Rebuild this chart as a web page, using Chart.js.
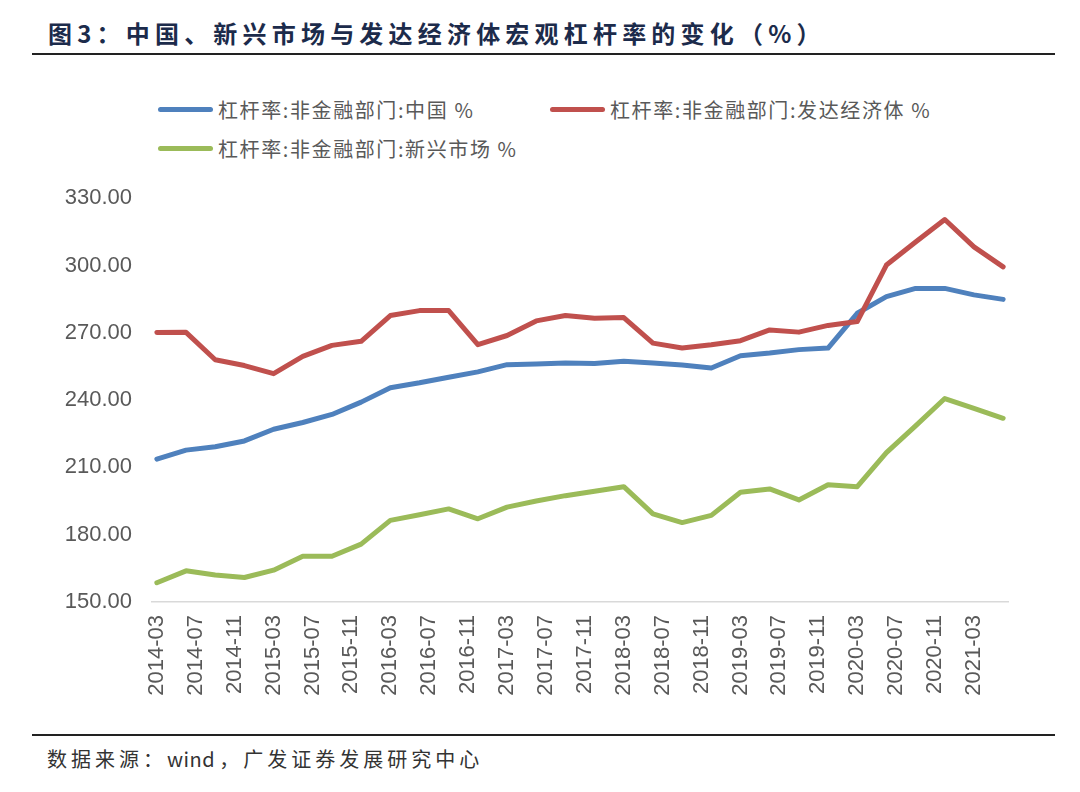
<!DOCTYPE html>
<html>
<head>
<meta charset="utf-8">
<script src="https://cdn.jsdelivr.net/npm/chart.js@4/dist/chart.umd.min.js"></script>
<style>
    body { margin: 0; background: #fff; }
    #page { position: relative; width: 1080px; height: 792px; overflow: hidden; background: #fff; }
    #title { position: absolute; left: 48px; top: 16px; font: bold 24px "Noto Sans CJK SC", sans-serif; color: #1c2b4b; letter-spacing: 5.2px; line-height: 34px; white-space: nowrap; }
    .rule { position: absolute; left: 32px; width: 1023px; height: 2px; background: #222; }
    #legend { position: absolute; left: 0; top: 0; }
    .item { position: absolute; height: 30px; display: flex; align-items: center; font: 20px "Noto Sans CJK SC", sans-serif; color: #595959; letter-spacing: 1.6px; white-space: nowrap; }
    .swatch { width: 55px; height: 5px; border-radius: 3px; margin-right: 5px; }
    #footer { position: absolute; left: 47px; top: 744px; font: 20px "Noto Sans CJK SC", sans-serif; color: #333; letter-spacing: 4px; line-height: 30px; white-space: nowrap; }
    #footer span { letter-spacing: 0.5px; margin-right: 4px; }
    #box { position: absolute; left: 0; top: 165px; width: 1080px; height: 555px; }
</style>
</head>
<body>
<div id="page">
    <div id="title">图3：中国、新兴市场与发达经济体宏观杠杆率的变化（%）</div>
    <div class="rule" style="top:53px"></div>
    <div id="legend"></div>
    <div id="box"><canvas id="chart"></canvas></div>
    <div class="rule" style="top:734px"></div>
    <div id="footer">数据来源：<span>wind</span>，广发证券发展研究中心</div>
</div>
<script>
// quarterly observations
const dates = ['2014-03', '2014-06', '2014-09', '2014-12', '2015-03', '2015-06', '2015-09', '2015-12',
    '2016-03', '2016-06', '2016-09', '2016-12', '2017-03', '2017-06', '2017-09', '2017-12',
    '2018-03', '2018-06', '2018-09', '2018-12', '2019-03', '2019-06', '2019-09', '2019-12',
    '2020-03', '2020-06', '2020-09', '2020-12', '2021-03', '2021-06'];

const china = [213.7, 217.7, 219.2, 221.8, 227.0, 230.0, 233.6, 239.1, 245.5, 247.7, 250.2, 252.6,
    255.8, 256.1, 256.5, 256.3, 257.3, 256.5, 255.6, 254.3, 259.8, 261.0, 262.5, 263.2,
    278.7, 286.1, 289.8, 289.8, 286.9, 284.9];

const developed = [270.1, 270.2, 258.0, 255.4, 251.8, 259.5, 264.4, 266.2, 277.7, 279.9, 279.9, 264.7,
    268.8, 275.3, 277.7, 276.5, 276.8, 265.4, 263.2, 264.7, 266.5, 271.3, 270.3, 273.3,
    275.0, 300.2, 310.5, 320.5, 308.3, 299.4];

const emerging = [158.6, 163.9, 162.0, 160.9, 164.2, 170.4, 170.4, 175.8, 186.4, 188.9, 191.5, 187.1,
    192.3, 195.0, 197.4, 199.4, 201.4, 189.3, 185.4, 188.6, 198.9, 200.4, 195.5, 202.3,
    201.4, 216.6, 228.5, 240.7, 236.3, 231.9];

const xTickLabels = ['2014-03', '2014-07', '2014-11', '2015-03', '2015-07', '2015-11', '2016-03', '2016-07',
    '2016-11', '2017-03', '2017-07', '2017-11', '2018-03', '2018-07', '2018-11', '2019-03',
    '2019-07', '2019-11', '2020-03', '2020-07', '2020-11', '2021-03'];

const yTicks = [150, 180, 210, 240, 270, 300, 330];

const seriesNames = ['杠杆率:非金融部门:中国 %', '杠杆率:非金融部门:发达经济体 %', '杠杆率:非金融部门:新兴市场 %'];
const seriesColors = ['#4F81BD', '#C0504D', '#9BBB59'];

// months since 2014-03
function monthIndex(s) {
    const [y, m] = s.split('-').map(Number);
    return (y - 2014) * 12 + (m - 3);
}
const tickLabelOf = {};
xTickLabels.forEach(l => { tickLabelOf[monthIndex(l)] = l; });

const toPoints = vals => vals.map((v, i) => ({ x: monthIndex(dates[i]), y: v }));

// legend laid out like the original
const legendPos = [[158, 94], [550, 94], [158, 133]];
const legend = document.getElementById('legend');
seriesNames.forEach((name, i) => {
    const div = document.createElement('div');
    div.className = 'item';
    div.style.left = legendPos[i][0] + 'px';
    div.style.top = legendPos[i][1] + 'px';
    div.innerHTML = '<span class="swatch" style="background:' + seriesColors[i] + '"></span>' + name;
    legend.appendChild(div);
});

const allSeries = [china, developed, emerging];
const ctx = document.getElementById('chart').getContext('2d');
new Chart(ctx, {
    type: 'line',
    data: {
        datasets: allSeries.map((vals, i) => ({
            label: seriesNames[i],
            data: toPoints(vals),
            borderColor: seriesColors[i],
            backgroundColor: seriesColors[i],
            borderWidth: 5,
            pointRadius: 0,
            tension: 0,
            borderCapStyle: 'round',
            borderJoinStyle: 'round',
            order: [2, 1, 0][i]
        }))
    },
    options: {
        responsive: true,
        maintainAspectRatio: false,
        animation: false,
        layout: { padding: { top: 16, right: 72, left: 0, bottom: 0 } },
        plugins: {
            legend: { display: false },
            tooltip: { enabled: false }
        },
        scales: {
            x: {
                type: 'linear',
                min: -0.5,
                max: 87.5,
                afterBuildTicks: axis => { axis.ticks = xTickLabels.map(l => ({ value: monthIndex(l) })); },
                afterFit: axis => { axis.height = 118; },
                grid: { display: false, drawTicks: false },
                border: { display: true, color: '#d9d9d9', width: 1.5 },
                ticks: {
                    autoSkip: false,
                    minRotation: 90,
                    maxRotation: 90,
                    padding: 13,
                    color: '#595959',
                    font: { family: 'Liberation Sans, Arial', size: 22 },
                    callback: v => tickLabelOf[v] || ''
                }
            },
            y: {
                min: 150,
                max: 330,
                afterBuildTicks: axis => { axis.ticks = yTicks.map(v => ({ value: v })); },
                afterFit: axis => { axis.width = 152; },
                grid: { display: false, drawTicks: false },
                border: { display: false },
                ticks: {
                    padding: 20,
                    color: '#595959',
                    font: { family: 'Liberation Sans, Arial', size: 22 },
                    callback: v => v.toFixed(2)
                }
            }
        }
    }
});
</script>
</body>
</html>
